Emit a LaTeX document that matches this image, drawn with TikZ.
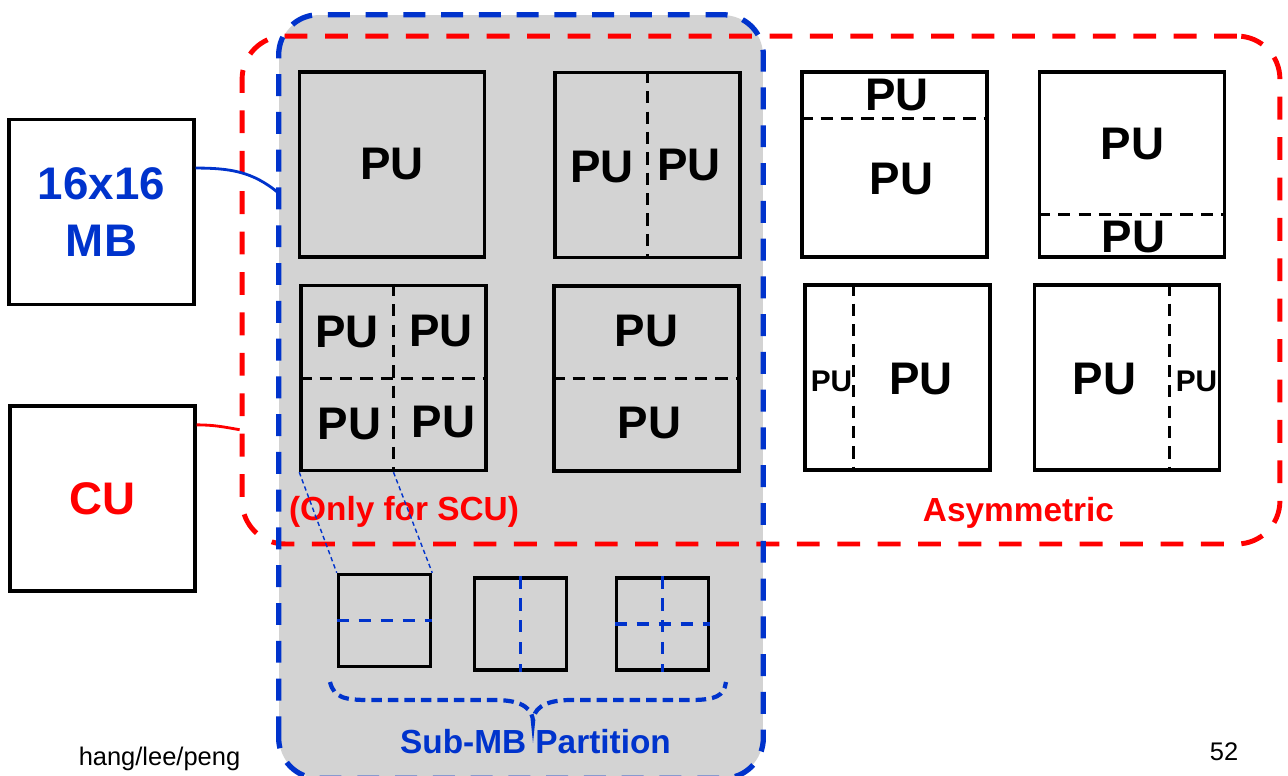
\documentclass[tikz,border=0pt]{standalone}
\usepackage{fontspec}
\setmainfont{Liberation Sans}
\definecolor{mbblue}{RGB}{0,51,204}
\definecolor{fillgray}{RGB}{211,211,211}
\begin{document}
\begin{tikzpicture}[x=0.02cm,y=-0.02cm,
  b/.style={draw,line width=2pt,minimum width=3.7cm,minimum height=3.7cm,inner sep=0pt,font=\bfseries\fontsize{26}{32}\selectfont},
  sb/.style={draw,line width=2pt,minimum width=1.84cm,minimum height=1.84cm,inner sep=0pt},
  pu/.style={inner sep=0pt,font=\bfseries\fontsize{26}{26}\selectfont},
  spu/.style={inner sep=0pt,font=\bfseries\fontsize{17}{17}\selectfont},
  cut/.style={line width=1.7pt,dash pattern=on 7pt off 4.6pt},
  bcut/.style={mbblue,line width=1.9pt,dash pattern=on 7pt off 5.5pt},
  zl/.style={mbblue,line width=0.8pt,dash pattern=on 2.5pt off 1.8pt},
  lbl/.style={anchor=base,inner sep=0pt,font=\bfseries\fontsize{19}{19}\selectfont}]
\useasboundingbox (0,0) rectangle (1288,775);
\node[fill=fillgray,rounded corners=0.8cm,minimum width=9.68cm,minimum height=15.26cm,inner sep=0pt] (mbreg) at (521,396.5) {};
\node[draw=red,line width=2.8pt,dash pattern=on 13pt off 10pt,rounded corners=0.86cm,minimum width=20.76cm,minimum height=10.16cm,inner sep=0pt] (asym) at (761,290) {};
\draw[mbblue,line width=3pt,dash pattern=on 12.5pt off 9pt,rounded corners=0.8cm] (mbreg.south west) rectangle (mbreg.north east);
\node[b,text=mbblue,align=center] (mb) at (101.5,212) {16x16\\MB};
\node[b,text=red] (cu) at (102.5,498.5) {CU};
\draw[mbblue,line width=1.6pt] (mb.25) to[out=0,in=140] (mbreg.140);
\draw[red,line width=1.6pt] (cu.38) to[out=0,in=170] (asym.195);
\node[b] (full) at (392,164.5) {PU};
\node[b] (vert) at (647.5,165) {};
\node[b] (quad) at (393.5,378) {};
\node[b] (horz) at (646.5,378.5) {};
\node[b] (up) at (894.5,164.5) {};
\node[b] (down) at (1132,164.5) {};
\node[b] (left) at (897.5,377.5) {};
\node[b] (right) at (1127,377.5) {};
\draw[cut] (vert.north) -- (vert.south);
\draw[cut] (quad.north) -- (quad.south) (quad.west) -- (quad.east);
\draw[cut] (horz.west) -- (horz.east);
\draw[cut] (up.west |- 0,118) -- (up.east |- 0,118);
\draw[cut] (down.west |- 0,214) -- (down.east |- 0,214);
\draw[cut] (left.north -| 853,0) -- (left.south -| 853,0);
\draw[cut] (right.north -| 1169,0) -- (right.south -| 1169,0);
\node[pu] (vert1) at (602,167.5) {PU};
\node[pu] (vert2) at (689,165.5) {PU};
\node[pu] (quad1) at (347,332) {PU};
\node[pu] (quad2) at (441,331) {PU};
\node[pu] (quad3) at (349.5,424) {PU};
\node[pu] (quad4) at (443.5,421.5) {PU};
\node[pu] (horz1) at (646.5,331) {PU};
\node[pu] (horz2) at (649.5,422.5) {PU};
\node[pu] (up1) at (897,95) {PU};
\node[pu] (up2) at (901.5,179) {PU};
\node[pu] (down1) at (1132.5,144) {PU};
\node[pu] (down2) at (1133.5,236.7) {PU};
\node[spu] (left1) at (831.5,381) {PU};
\node[pu] (left2) at (921,378.5) {PU};
\node[pu] (right1) at (1104.5,378.5) {PU};
\node[spu] (right2) at (1196.5,381) {PU};
\node[lbl,text=red] (only) at (404,520) {(Only for SCU)};
\node[lbl,text=red] (asymtxt) at (1018.5,521) {Asymmetric};
\node[sb] (sub1) at (384.5,620.5) {};
\node[sb] (sub2) at (520.5,624) {};
\node[sb] (sub3) at (662.5,624) {};
\draw[bcut] (sub1.west) -- (sub1.east);
\draw[bcut] (sub2.north) -- (sub2.south);
\draw[bcut] (sub3.north) -- (sub3.south) (sub3.west) -- (sub3.east);
\draw[zl] (quad.south west) -- (sub1.north west);
\draw[zl] (quad.south) -- (sub1.north east);
\draw[mbblue,line width=2.4pt,dash pattern=on 6pt off 3.4pt] (330,682) .. controls (334,698) and (345,700) .. (370,700) -- (495,700) .. controls (524,700) and (533,710) .. (533,722) .. controls (533,710) and (542,700) .. (571,700) -- (690,700) .. controls (716,700) and (724,696) .. (726,682);
\node[lbl,text=mbblue] (subtxt) at (535.5,753) {Sub-MB Partition};
\node[anchor=base,inner sep=0pt,font=\fontsize{14.5}{14.5}\selectfont] (auth) at (159.5,765) {hang/lee/peng};
\node[anchor=base,inner sep=0pt,font=\fontsize{14.5}{14.5}\selectfont] (page) at (1224,760) {52};
\end{tikzpicture}
\end{document}
